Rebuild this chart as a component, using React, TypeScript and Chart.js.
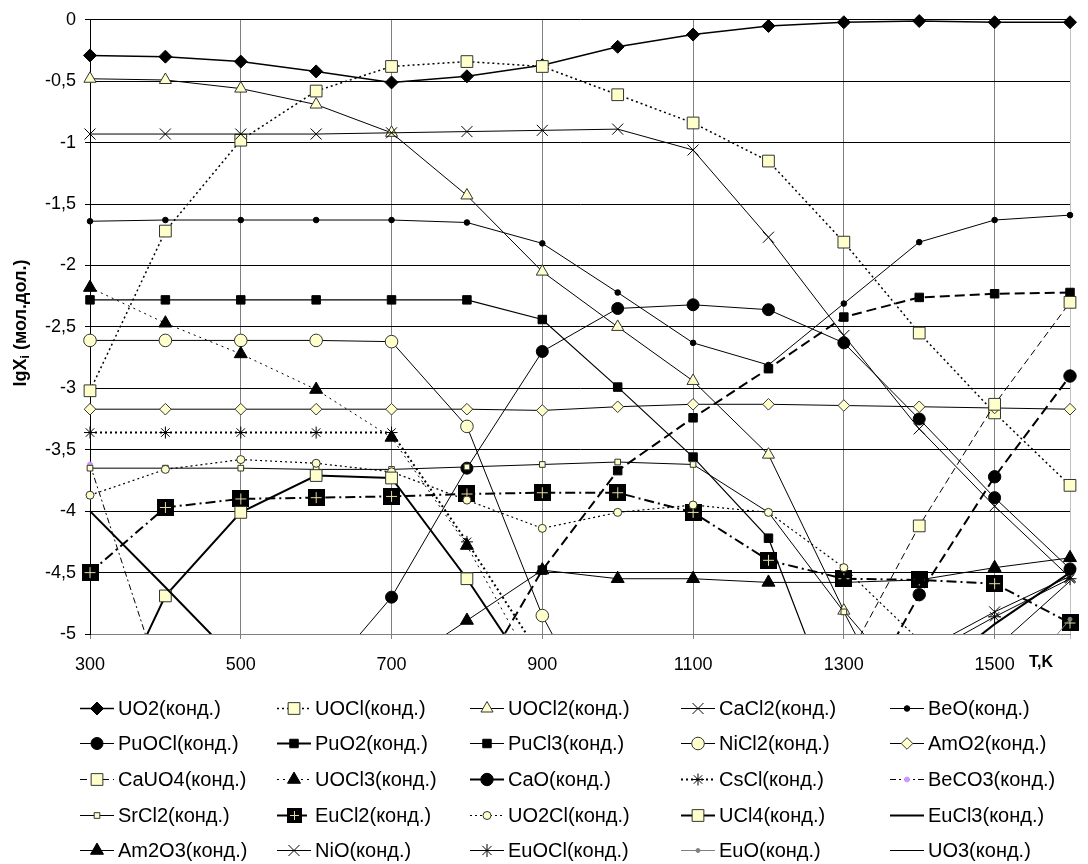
import React, { useEffect, useRef } from 'react';
import { Chart, registerables } from 'chart.js';

Chart.register(...registerables);

// ---------- data ----------
const TEMPS = [300, 400, 500, 600, 700, 800, 900, 1000, 1100, 1200, 1300, 1400, 1500, 1600];
const X_LABELS = [300, 500, 700, 900, 1100, 1300, 1500];
const X_EDGE = 1600;
const Y_MIN = -5;
const Y_MAX = 0;
const Y_STEP = 0.5;

const N = null;
const UO2 = [-0.29, -0.30, -0.34, -0.42, -0.51, -0.46, -0.37, -0.22, -0.12, -0.05, -0.02, -0.01, -0.02, -0.02];
const UOCL = [-3.02, -1.72, -0.98, -0.58, -0.38, -0.34, -0.38, -0.61, -0.84, -1.15, -1.81, -2.55, -3.20, -3.79];
const UOCL2 = [-0.48, -0.49, -0.56, -0.69, -0.92, -1.43, -2.05, -2.50, -2.94, -3.54, -4.81, -5.53, N, N];
const CACL2 = [-0.93, -0.93, -0.93, -0.93, -0.92, -0.91, -0.90, -0.89, -1.06, -1.77, -2.57, -3.33, -3.96, -4.54];
const BEO = [-1.64, -1.63, -1.63, -1.63, -1.63, -1.65, -1.82, -2.22, -2.63, -2.81, -2.31, -1.81, -1.63, -1.59];
const PUOCL = [N, N, N, -5.42, -4.70, -3.65, -2.70, -2.35, -2.32, -2.36, -2.63, -3.25, -3.89, -4.47];
const PUO2 = [N, N, N, N, N, -5.52, -4.48, -3.67, -3.24, -2.84, -2.42, -2.26, -2.23, -2.22];
const PUCL3 = [-2.28, -2.28, -2.28, -2.28, -2.28, -2.28, -2.44, -2.99, -3.56, -4.22, -5.82, N, N, N];
const NICL2 = [-2.61, -2.61, -2.61, -2.61, -2.62, -3.31, -4.85, -6.0, N, N, N, N, N, N];
const AMO2 = [-3.17, -3.17, -3.17, -3.17, -3.17, -3.17, -3.18, -3.15, -3.13, -3.13, -3.14, -3.15, -3.16, -3.17];
const CAUO4 = [N, N, N, N, N, N, N, N, N, N, -5.26, -4.12, -3.13, -2.30];
const UOCL3 = [-2.18, -2.47, -2.72, -3.01, -3.40, -4.28, -5.4, N, N, N, N, N, N, N];
const CAO = [N, N, N, N, N, N, N, N, N, N, -5.8, -4.68, -3.72, -2.90];
const CSCL = [-3.36, -3.36, -3.36, -3.36, -3.36, -4.25, -5.2, N, N, N, N, N, N, N];
const BECO3 = [-3.62, -5.5, N, N, N, N, N, N, N, N, N, N, N, N];
const SRCL2 = [-3.65, -3.65, -3.65, -3.66, -3.66, -3.64, -3.62, -3.60, -3.62, -4.01, -4.82, -6.0, N, N];
const EUCL2 = [-4.50, -3.97, -3.90, -3.89, -3.88, -3.86, -3.85, -3.85, -4.01, -4.40, -4.55, -4.56, -4.59, -4.91];
const UO2CL = [-3.87, -3.66, -3.58, -3.61, -3.68, -3.91, -4.14, -4.01, -3.95, -4.01, -4.46, -5.05, -5.6, N];
const UCL4 = [-5.98, -4.69, -4.01, -3.71, -3.73, -4.55, -5.47, N, N, N, N, N, N, N];
const EUCL3 = [-4.00, -4.62, -5.25, N, N, N, N, N, N, N, N, -5.4, -4.92, -4.50];
const AM2O3 = [N, N, N, N, -5.30, -4.89, -4.48, -4.55, -4.55, -4.58, -4.58, -4.56, -4.46, -4.38];
const NIO = [N, N, N, N, N, N, N, N, N, N, N, -5.15, -4.82, -4.53];
const EUOCL = [N, N, N, N, N, N, N, N, N, N, N, -5.2, -4.86, -4.55];
const EUO = [N, N, N, N, N, N, N, N, N, N, N, N, -5.6, -4.88];
const UO3 = [N, N, N, N, N, N, N, N, N, N, N, -5.6, -5.12, -4.57];

// ---------- styles ----------
const FONT = '"Liberation Sans", Arial, sans-serif';
const LY = '#FFFFCC';
const MB = '#333333';
const BK = '#000000';

type Spec = {
  label: string;
  data: (number | null)[];
  width: number;
  dash: number[];
  legendDash?: number[];
  color?: string;
  style: string;
  r?: number;
  fill?: string;
  stroke?: string;
};

const SERIES: Spec[] = [
  { label: 'UO2(конд.)', data: UO2, width: 1.5, dash: [], style: 'rectRot', r: 6.5, fill: BK, stroke: BK },
  { label: 'UOCl(конд.)', data: UOCL, width: 1.5, dash: [2, 3], style: 'rect', r: 8.3, fill: LY, stroke: MB },
  { label: 'UOCl2(конд.)', data: UOCL2, width: 1, dash: [], style: 'triangle', r: 7, fill: LY, stroke: MB },
  { label: 'CaCl2(конд.)', data: CACL2, width: 1, dash: [], style: 'crossRot', r: 7.8, fill: BK, stroke: BK },
  { label: 'BeO(конд.)', data: BEO, width: 1, dash: [], style: 'circle', r: 2.8, fill: BK, stroke: BK },
  { label: 'PuOCl(конд.)', data: PUOCL, width: 1, dash: [], style: 'circle', r: 6, fill: BK, stroke: BK },
  { label: 'PuO2(конд.)', data: PUO2, width: 2, dash: [10, 5], legendDash: [], style: 'rect', r: 6, fill: BK, stroke: BK },
  { label: 'PuCl3(конд.)', data: PUCL3, width: 1.2, dash: [], style: 'rect', r: 6, fill: BK, stroke: BK },
  { label: 'NiCl2(конд.)', data: NICL2, width: 1, dash: [], style: 'circle', r: 6.3, fill: LY, stroke: MB },
  { label: 'AmO2(конд.)', data: AMO2, width: 1, dash: [], style: 'rectRot', r: 5.8, fill: LY, stroke: MB },
  { label: 'CaUO4(конд.)', data: CAUO4, width: 1, dash: [7, 4], style: 'rect', r: 8.3, fill: LY, stroke: MB },
  { label: 'UOCl3(конд.)', data: UOCL3, width: 1, dash: [2, 4], style: 'triangle', r: 7.5, fill: BK, stroke: BK },
  { label: 'CaO(конд.)', data: CAO, width: 2, dash: [10, 5], legendDash: [], style: 'circle', r: 6.2, fill: BK, stroke: BK },
  { label: 'CsCl(конд.)', data: CSCL, width: 2, dash: [2, 3], style: 'star', r: 6, fill: BK, stroke: BK },
  { label: 'BeCO3(конд.)', data: BECO3, width: 1, dash: [6, 3, 2, 3], style: 'circle', r: 2.5, fill: '#CC99FF', stroke: '#CC99FF' },
  { label: 'SrCl2(конд.)', data: SRCL2, width: 1, dash: [], style: 'rect', r: 4, fill: LY, stroke: MB },
  { label: 'EuCl2(конд.)', data: EUCL2, width: 2, dash: [10, 4, 2, 4], style: 'eu', r: 8.5 },
  { label: 'UO2Cl(конд.)', data: UO2CL, width: 1.2, dash: [2, 3], style: 'circle', r: 4, fill: LY, stroke: MB },
  { label: 'UCl4(конд.)', data: UCL4, width: 2, dash: [], style: 'rect', r: 8.3, fill: LY, stroke: MB },
  { label: 'EuCl3(конд.)', data: EUCL3, width: 2, dash: [], style: 'none' },
  { label: 'Am2O3(конд.)', data: AM2O3, width: 1, dash: [], style: 'triangle', r: 7.5, fill: BK, stroke: BK },
  { label: 'NiO(конд.)', data: NIO, width: 1, dash: [], style: 'crossRot', r: 7.8, fill: BK, stroke: BK },
  { label: 'EuOCl(конд.)', data: EUOCL, width: 1, dash: [], style: 'star', r: 6.5, fill: BK, stroke: BK },
  { label: 'EuO(конд.)', data: EUO, width: 1, color: '#808080', dash: [], style: 'circle', r: 2, fill: '#808080', stroke: '#808080' },
  { label: 'UO3(конд.)', data: UO3, width: 1, dash: [], style: 'none' },
];

const LEGEND_COLS = [118, 315, 508, 719, 928];
const LEGEND_ROWS = [708, 743, 779, 815, 850];

function makeEuImage(size: number): HTMLCanvasElement {
  const c = document.createElement('canvas');
  c.width = size;
  c.height = size;
  const g = c.getContext('2d')!;
  g.fillStyle = '#000';
  g.fillRect(0, 0, size, size);
  g.strokeStyle = '#E6DDA0';
  g.lineWidth = 1;
  const m = Math.floor(size / 2) + 0.5;
  g.beginPath();
  g.moveTo(3, m);
  g.lineTo(size - 3, m);
  g.moveTo(m, 3);
  g.lineTo(m, size - 3);
  g.stroke();
  return c;
}

function drawMarker(ctx: CanvasRenderingContext2D, s: Spec, x: number, y: number, img: HTMLCanvasElement) {
  if (s.style === 'none') return;
  const r = s.r || 4;
  ctx.save();
  ctx.setLineDash([]);
  ctx.lineWidth = 1;
  ctx.fillStyle = s.fill || BK;
  ctx.strokeStyle = s.stroke || BK;
  ctx.beginPath();
  switch (s.style) {
    case 'circle':
      ctx.arc(x, y, r, 0, Math.PI * 2);
      ctx.fill();
      ctx.stroke();
      break;
    case 'rect': {
      const h = r * Math.SQRT1_2;
      ctx.rect(x - h, y - h, 2 * h, 2 * h);
      ctx.fill();
      ctx.stroke();
      break;
    }
    case 'rectRot':
      ctx.moveTo(x, y - r);
      ctx.lineTo(x + r, y);
      ctx.lineTo(x, y + r);
      ctx.lineTo(x - r, y);
      ctx.closePath();
      ctx.fill();
      ctx.stroke();
      break;
    case 'triangle':
      ctx.moveTo(x, y - r);
      ctx.lineTo(x + 0.866 * r, y + 0.5 * r);
      ctx.lineTo(x - 0.866 * r, y + 0.5 * r);
      ctx.closePath();
      ctx.fill();
      ctx.stroke();
      break;
    case 'crossRot': {
      const h = r * Math.SQRT1_2;
      ctx.moveTo(x - h, y - h);
      ctx.lineTo(x + h, y + h);
      ctx.moveTo(x - h, y + h);
      ctx.lineTo(x + h, y - h);
      ctx.stroke();
      break;
    }
    case 'star': {
      const h = r * Math.SQRT1_2;
      ctx.moveTo(x - h, y - h);
      ctx.lineTo(x + h, y + h);
      ctx.moveTo(x - h, y + h);
      ctx.lineTo(x + h, y - h);
      ctx.moveTo(x, y - r);
      ctx.lineTo(x, y + r);
      ctx.moveTo(x - r, y);
      ctx.lineTo(x + r, y);
      ctx.stroke();
      break;
    }
    case 'eu':
      ctx.drawImage(img, Math.round(x - img.width / 2), Math.round(y - img.height / 2));
      break;
  }
  ctx.restore();
}

export default function App() {
  const ref = useRef<HTMLCanvasElement | null>(null);

  useEffect(() => {
    if (!ref.current) return;
    const euPlot = makeEuImage(17);
    const euLegend = makeEuImage(15);

    const datasets = SERIES.map((s, i) => ({
      label: s.label,
      data: TEMPS.map((t, j) => ({ x: t, y: s.data[j] })),
      borderColor: s.color || BK,
      borderWidth: s.width,
      borderDash: s.dash,
      pointStyle: s.style === 'eu' ? (euPlot as any) : s.style === 'none' ? 'circle' : s.style,
      pointRadius: s.style === 'none' ? 0 : s.r,
      pointHoverRadius: s.style === 'none' ? 0 : s.r,
      pointBackgroundColor: s.fill || BK,
      pointBorderColor: s.stroke || BK,
      pointBorderWidth: 1,
      tension: 0,
      spanGaps: false,
      fill: false,
      order: -i,
      clip: { left: 12, top: 12, right: 12, bottom: 0 } as any,
    }));

    const decor = {
      id: 'decor',
      afterDraw(chart: any) {
        const ctx: CanvasRenderingContext2D = chart.ctx;
        // y-axis title
        ctx.save();
        ctx.translate(21, 323);
        ctx.rotate(-Math.PI / 2);
        ctx.fillStyle = '#000';
        ctx.textBaseline = 'middle';
        const big = 'bold 18px ' + FONT;
        const small = 'bold 12px ' + FONT;
        ctx.font = big;
        const w1 = ctx.measureText('lgX').width;
        const w3 = ctx.measureText(' (мол.дол.)').width;
        ctx.font = small;
        const w2 = ctx.measureText('i').width;
        let x = -(w1 + w2 + w3) / 2;
        ctx.font = big;
        ctx.textAlign = 'left';
        ctx.fillText('lgX', x, 0);
        x += w1;
        ctx.font = small;
        ctx.fillText('i', x, 5);
        x += w2;
        ctx.font = big;
        ctx.fillText(' (мол.дол.)', x, 0);
        ctx.restore();

        // T,K
        ctx.save();
        ctx.fillStyle = '#000';
        ctx.font = 'bold 16px ' + FONT;
        ctx.textAlign = 'center';
        ctx.textBaseline = 'middle';
        ctx.fillText('T,K', 1041, 663);
        ctx.restore();

        // legend
        SERIES.forEach((s, i) => {
          const tx = LEGEND_COLS[i % 5];
          const ty = LEGEND_ROWS[Math.floor(i / 5)];
          ctx.save();
          ctx.strokeStyle = s.color || BK;
          ctx.lineWidth = s.width;
          ctx.setLineDash(s.legendDash || s.dash);
          ctx.beginPath();
          ctx.moveTo(tx - 38, ty + 0.5);
          ctx.lineTo(tx - 4, ty + 0.5);
          ctx.stroke();
          ctx.restore();
          drawMarker(ctx, s, tx - 21, ty + 0.5, euLegend);
          ctx.save();
          ctx.fillStyle = '#000';
          ctx.font = '20px ' + FONT;
          ctx.textAlign = 'left';
          ctx.textBaseline = 'middle';
          ctx.fillText(s.label, tx, ty + 1);
          ctx.restore();
        });
      },
    };

    const chart = new Chart(ref.current, {
      type: 'line',
      data: { datasets },
      options: {
        animation: false,
        responsive: false,
        devicePixelRatio: 1,
        events: [],
        layout: { padding: { left: 0, right: 18, top: 15, bottom: 0 } },
        plugins: {
          legend: { display: false },
          title: { display: false },
          tooltip: { enabled: false },
        },
        scales: {
          x: {
            type: 'linear',
            min: TEMPS[0],
            max: X_EDGE,
            afterBuildTicks: (s: any) => {
              s.ticks = [...X_LABELS, X_EDGE].map((v) => ({ value: v }));
            },
            afterFit: (s: any) => {
              s.height = 230;
            },
            ticks: {
              autoSkip: false,
              maxRotation: 0,
              padding: 15,
              color: '#000',
              font: { family: FONT, size: 18 },
              callback: (v: any) => (v === X_EDGE ? '' : String(v)),
            },
            grid: {
              color: (c: any) => (c.tick && c.tick.value === X_EDGE ? '#C0C0C0' : '#808080'),
              tickLength: 5,
              lineWidth: 1,
            },
            border: { color: '#808080' },
          },
          y: {
            type: 'linear',
            min: Y_MIN,
            max: Y_MAX,
            afterFit: (s: any) => {
              s.width = 90;
            },
            ticks: {
              stepSize: Y_STEP,
              padding: 9,
              color: '#000',
              font: { family: FONT, size: 18 },
              callback: (v: any) => String(v).replace('.', ','),
            },
            grid: { color: '#000', tickLength: 5, lineWidth: 1 },
            border: { color: '#000' },
          },
        },
      } as any,
      plugins: [decor],
    });

    return () => chart.destroy();
  }, []);

  return (
    <div style={{ position: 'absolute', left: 0, top: 0, width: 1088, height: 864, background: '#fff' }}>
      <canvas ref={ref} width={1088} height={864} style={{ display: 'block' }} />
    </div>
  );
}
